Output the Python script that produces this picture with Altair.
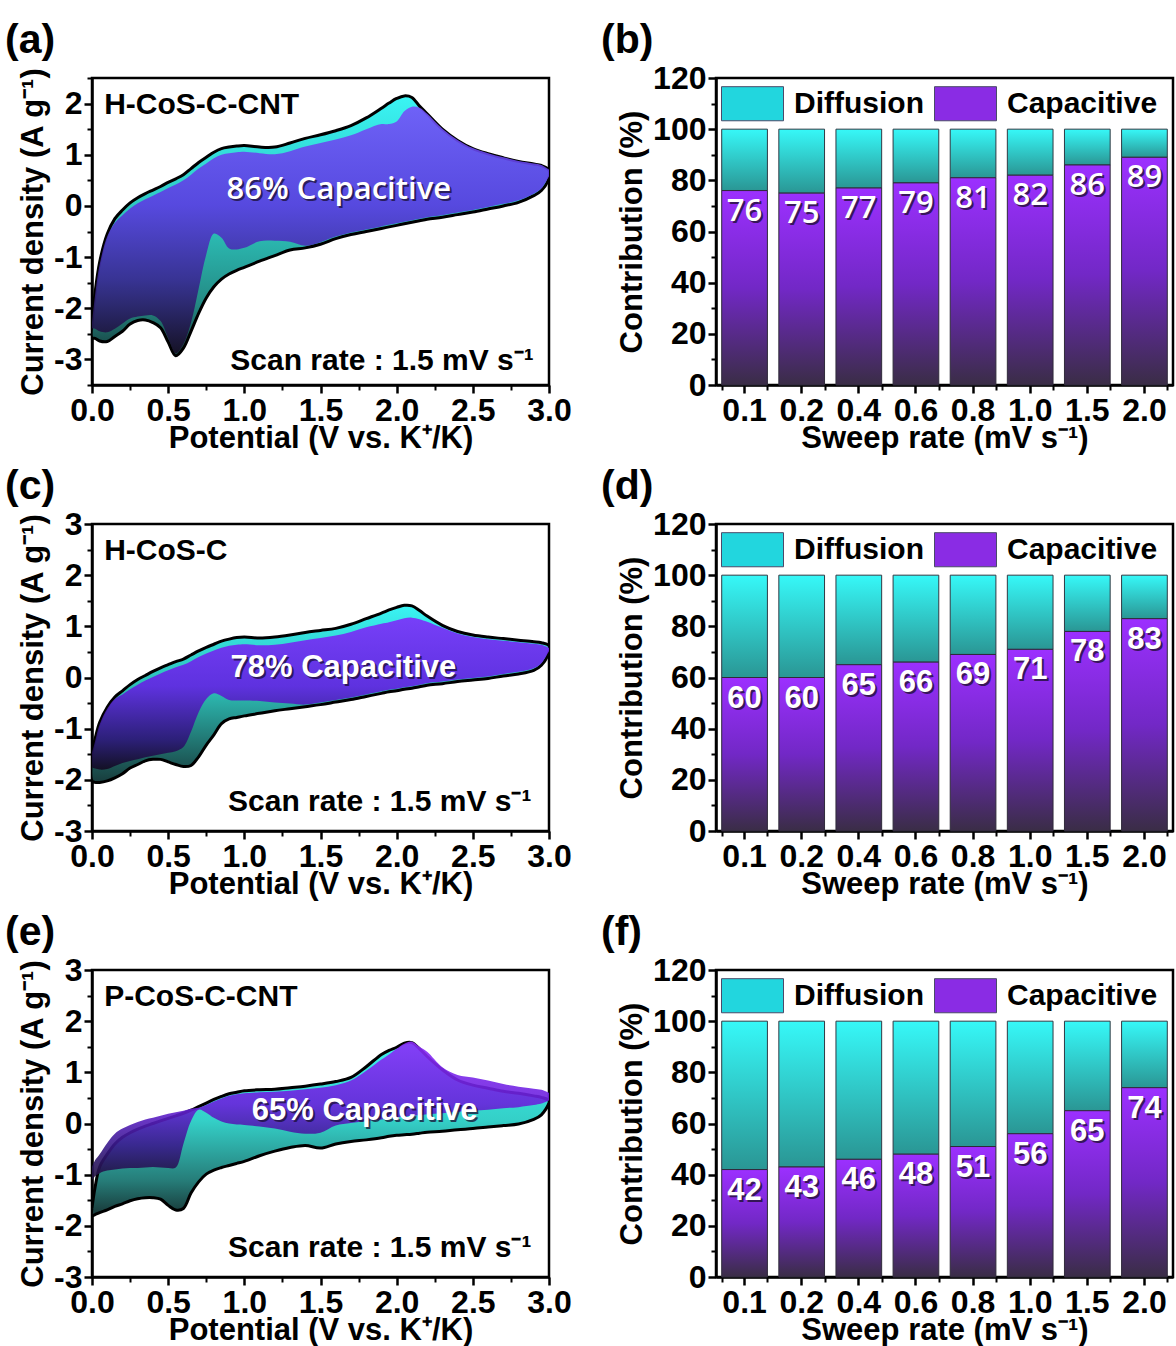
import altair as alt
import pandas as pd

FONT = "Liberation Sans"

# ---------------- CV data (potential grid shared by both branches) ----------------
V = [0.0, 0.02, 0.05, 0.1, 0.15, 0.2, 0.25, 0.3, 0.35, 0.4, 0.45, 0.5, 0.55, 0.6, 0.65, 0.7,
     0.75, 0.8, 0.85, 0.9, 0.95, 1.0, 1.1, 1.2, 1.3, 1.4, 1.5, 1.6, 1.7, 1.8, 1.9, 1.95, 2.0,
     2.05, 2.1, 2.15, 2.2, 2.3, 2.4, 2.5, 2.6, 2.7, 2.8, 2.9, 2.95, 3.0]

# (a) H-CoS-C-CNT
A_tot_up = [-2.3, -1.7, -1.1, -0.55, -0.25, -0.08, 0.06, 0.16, 0.24, 0.31, 0.38, 0.46, 0.53, 0.61,
            0.73, 0.85, 0.95, 1.05, 1.12, 1.15, 1.17, 1.18, 1.15, 1.15, 1.23, 1.32, 1.39, 1.47, 1.57,
            1.72, 1.91, 2.01, 2.10, 2.15, 2.12, 1.95, 1.80, 1.50, 1.28, 1.12, 1.02, 0.94, 0.87, 0.82,
            0.79, 0.70]
A_tot_lo = [-2.58, -2.59, -2.64, -2.65, -2.55, -2.45, -2.31, -2.24, -2.23, -2.28, -2.38, -2.66, -2.93,
            -2.78, -2.45, -2.10, -1.80, -1.58, -1.43, -1.33, -1.26, -1.20, -1.08, -0.97, -0.86, -0.82,
            -0.75, -0.64, -0.56, -0.50, -0.44, -0.41, -0.38, -0.35, -0.32, -0.29, -0.26, -0.22, -0.17,
            -0.12, -0.06, 0.0, 0.07, 0.20, 0.30, 0.55]
A_cap_up = [-2.3, -1.75, -1.15, -0.6, -0.33, -0.18, -0.05, 0.05, 0.13, 0.20, 0.27, 0.35, 0.42, 0.50,
            0.61, 0.73, 0.83, 0.93, 1.0, 1.03, 1.05, 1.06, 1.03, 1.01, 1.07, 1.16, 1.23, 1.30, 1.38,
            1.50, 1.60, 1.60, 1.65, 1.85, 1.94, 1.92, 1.80, 1.51, 1.29, 1.13, 1.03, 0.95, 0.88, 0.83,
            0.80, 0.71]
A_cap_lo = [-2.4, -2.4, -2.45, -2.47, -2.40, -2.30, -2.2, -2.16, -2.14, -2.14, -2.25, -2.58, -2.88,
            -2.70, -2.28, -1.62, -0.95, -0.54, -0.62, -0.83, -0.85, -0.82, -0.69, -0.68, -0.70, -0.78,
            -0.71, -0.60, -0.52, -0.46, -0.40, -0.37, -0.34, -0.31, -0.28, -0.25, -0.22, -0.18, -0.13,
            -0.08, -0.02, 0.04, 0.11, 0.24, 0.34, 0.58]

# (c) H-CoS-C
C_tot_up = [-1.45, -1.2, -0.88, -0.58, -0.38, -0.26, -0.14, -0.04, 0.04, 0.12, 0.19, 0.25, 0.31, 0.36,
            0.44, 0.52, 0.59, 0.65, 0.71, 0.75, 0.78, 0.79, 0.77, 0.79, 0.83, 0.88, 0.92, 0.96, 1.04,
            1.15, 1.26, 1.32, 1.37, 1.41, 1.40, 1.31, 1.20, 1.02, 0.90, 0.83, 0.79, 0.76, 0.73, 0.70,
            0.68, 0.62]
C_tot_lo = [-2.02, -2.05, -2.05, -2.02, -1.96, -1.88, -1.77, -1.70, -1.63, -1.60, -1.60, -1.65, -1.70,
            -1.74, -1.72, -1.55, -1.32, -1.12, -0.90, -0.81, -0.78, -0.75, -0.70, -0.65, -0.61, -0.57,
            -0.53, -0.48, -0.43, -0.37, -0.31, -0.28, -0.26, -0.23, -0.21, -0.18, -0.15, -0.12, -0.08,
            -0.05, -0.02, 0.03, 0.07, 0.14, 0.24, 0.50]
C_cap_up = [-1.47, -1.25, -0.92, -0.61, -0.42, -0.33, -0.23, -0.14, -0.06, 0.01, 0.08, 0.14, 0.20, 0.25,
            0.32, 0.40, 0.47, 0.53, 0.58, 0.62, 0.64, 0.65, 0.63, 0.64, 0.68, 0.73, 0.77, 0.82, 0.89,
            0.98, 1.05, 1.08, 1.12, 1.16, 1.17, 1.14, 1.09, 0.97, 0.86, 0.79, 0.75, 0.72, 0.69, 0.66,
            0.64, 0.58]
C_cap_lo = [-1.76, -1.78, -1.80, -1.79, -1.73, -1.67, -1.63, -1.60, -1.56, -1.53, -1.50, -1.47, -1.44,
            -1.36, -1.06, -0.68, -0.42, -0.31, -0.36, -0.44, -0.45, -0.45, -0.46, -0.49, -0.51, -0.53,
            -0.49, -0.44, -0.39, -0.33, -0.27, -0.24, -0.22, -0.19, -0.17, -0.14, -0.11, -0.08, -0.04,
            -0.01, 0.02, 0.07, 0.11, 0.18, 0.28, 0.52]

# (e) P-CoS-C-CNT
E_tot_up = [-1.65, -1.25, -0.85, -0.6, -0.40, -0.27, -0.18, -0.11, -0.05, 0.0, 0.05, 0.10, 0.15, 0.2,
            0.26, 0.33, 0.40, 0.47, 0.53, 0.58, 0.61, 0.64, 0.66, 0.67, 0.70, 0.73, 0.77, 0.82, 0.90,
            1.11, 1.35, 1.43, 1.49, 1.57, 1.58, 1.46, 1.31, 1.05, 0.85, 0.75, 0.69, 0.63, 0.59, 0.54,
            0.51, 0.45]
E_tot_lo = [-1.80, -1.78, -1.74, -1.69, -1.62, -1.57, -1.51, -1.47, -1.45, -1.45, -1.48, -1.60, -1.69,
            -1.66, -1.36, -1.14, -0.99, -0.91, -0.86, -0.82, -0.78, -0.74, -0.63, -0.54, -0.47, -0.43,
            -0.48, -0.40, -0.35, -0.32, -0.28, -0.25, -0.23, -0.22, -0.21, -0.19, -0.17, -0.15, -0.12,
            -0.10, -0.07, -0.04, -0.01, 0.08, 0.17, 0.40]
E_cap_up = [-0.85, -0.72, -0.6, -0.38, -0.2, -0.1, -0.03, 0.03, 0.08, 0.11, 0.15, 0.19, 0.22, 0.25,
            0.29, 0.31, 0.36, 0.43, 0.49, 0.54, 0.57, 0.59, 0.61, 0.62, 0.64, 0.67, 0.70, 0.75, 0.84,
            1.03, 1.25, 1.35, 1.46, 1.56, 1.60, 1.50, 1.40, 1.10, 0.95, 0.90, 0.84, 0.77, 0.72, 0.68,
            0.66, 0.60]
E_cap_lo = [-1.11, -1.03, -0.97, -0.92, -0.90, -0.88, -0.87, -0.87, -0.86, -0.85, -0.86, -0.87, -0.86,
            -0.40, 0.05, 0.27, 0.21, 0.11, 0.04, 0.0, -0.02, -0.03, -0.06, -0.10, -0.16, -0.20, -0.18,
            -0.04, 0.01, 0.05, 0.08, 0.10, 0.12, 0.13, 0.15, 0.16, 0.18, 0.20, 0.23, 0.25, 0.27, 0.30,
            0.32, 0.36, 0.39, 0.45]

# ---------------- bar data ----------------
RATES = ["0.1", "0.2", "0.4", "0.6", "0.8", "1.0", "1.5", "2.0"]
CAP_B = [76, 75, 77, 79, 81, 82, 86, 89]
CAP_D = [60, 60, 65, 66, 69, 71, 78, 83]
CAP_F = [42, 43, 46, 48, 51, 56, 65, 74]

X_MAJOR = [0.0, 0.5, 1.0, 1.5, 2.0, 2.5, 3.0]
X_MINOR = [0.25, 0.75, 1.25, 1.75, 2.25, 2.75]
Y_MAJOR_A = [-3, -2, -1, 0, 1, 2]
Y_MINOR_A = [-3.5, -2.5, -1.5, -0.5, 0.5, 1.5, 2.5]
Y_MAJOR_CE = [-3, -2, -1, 0, 1, 2, 3]
Y_MINOR_CE = [-2.5, -1.5, -0.5, 0.5, 1.5, 2.5]
YB_MAJOR = [0, 20, 40, 60, 80, 100, 120]
YB_MINOR = [10, 30, 50, 70, 90, 110]

W, H = 457, 307


def grad(stops):
    return alt.LinearGradient(
        gradient="linear",
        stops=[alt.GradientStop(color=c, offset=o) for o, c in stops],
        x1=0, y1=0, x2=0, y2=1,
    )


def label_df(s):
    return pd.DataFrame({"label": [s]})


def panel_tag(tag, dx):
    # panel letter placed above the top-left corner of the plot frame
    return alt.Chart(label_df(tag)).mark_text(
        font=FONT, fontSize=41, fontWeight="bold", color="black", align="left",
        baseline="alphabetic"
    ).encode(x=alt.value(dx), y=alt.value(-25), text="label:N")


def cv_panel(tu, tl, cu, cl, ydom, ymaj, ymin, name, pct, name_pos, pct_pos, scan_pos,
             cyan_stops, purp_stops, tag, pct_font, pct_weight):
    df = pd.DataFrame({"V": V, "tu": tu, "tl": tl, "cu": cu, "cl": cl})
    n = len(V)
    loop = pd.DataFrame({
        "V": V + V[::-1] + [V[0]],
        "I": tu + tl[::-1] + [tu[0]],
        "o": list(range(2 * n + 1)),
    })
    xs = alt.Scale(domain=[0, 3], nice=False, zero=False)
    ys = alt.Scale(domain=ydom, nice=False, zero=False)
    x_major = alt.Axis(values=X_MAJOR, format=".1f", tickSize=8, orient="bottom",
                       title="Potential (V vs. K⁺/K)")
    x_minor = alt.Axis(values=X_MINOR, labels=False, tickSize=5, tickWidth=2, orient="bottom",
                       title=None, domain=False)
    y_major = alt.Axis(values=ymaj, labelExpr="'' + datum.value", tickSize=8, orient="left",
                       title="Current density (A g⁻¹)")
    y_minor = alt.Axis(values=ymin, labels=False, tickSize=5, tickWidth=2, orient="left",
                       title=None, domain=False)

    cyan = alt.Chart(df).mark_area(color=grad(cyan_stops), interpolate="catmull-rom", clip=True).encode(
        x=alt.X("V:Q", scale=xs, axis=x_major),
        y=alt.Y("tu:Q", scale=ys, axis=y_major),
        y2="tl:Q",
    )
    line = alt.Chart(loop).mark_line(color="black", strokeWidth=3, interpolate="catmull-rom",
                                     clip=True, strokeJoin="round").encode(
        x=alt.X("V:Q", scale=xs, axis=x_minor),
        y=alt.Y("I:Q", scale=ys, axis=y_minor),
        order="o:Q",
    )
    purple = alt.Chart(df).mark_area(color=grad(purp_stops), opacity=0.9, interpolate="catmull-rom",
                                     clip=True).encode(
        x=alt.X("V:Q", scale=xs, axis=None),
        y=alt.Y("cu:Q", scale=ys, axis=None),
        y2="cl:Q",
    )

    def txt(s, pos, **kw):
        return alt.Chart(label_df(s)).mark_text(**kw).encode(
            x=alt.XDatum(pos[0], scale=xs, axis=None),
            y=alt.YDatum(pos[1], scale=ys, axis=None),
            text="label:N",
        )

    t_name = txt(name, name_pos, font=FONT, fontSize=30, fontWeight="bold", color="black",
                 align="left", baseline="middle")
    t_shadow = txt(pct, pct_pos, font=pct_font, fontSize=31, fontWeight=pct_weight, color="#1a0f33",
                   opacity=0.75, align="center", baseline="middle", dx=2, dy=2)
    t_pct = txt(pct, pct_pos, font=pct_font, fontSize=31, fontWeight=pct_weight, color="white",
                align="center", baseline="middle")
    t_scan = txt("Scan rate : 1.5 mV s⁻¹", scan_pos, font=FONT, fontSize=30, fontWeight="bold",
                 color="black", align="right", baseline="middle")

    return alt.layer(cyan, line, purple, t_name, t_shadow, t_pct, t_scan,
                     panel_tag(tag, -87)).resolve_axis(
        x="independent", y="independent"
    ).properties(width=W, height=H)


DIFF_STOPS = [(0, "#36f8f8"), (1, "#2a9694")]
CAP_STOPS = [(0, "#9c30ff"), (0.5, "#7228c6"), (1, "#3a2d46")]


def bar_panel(cap, tag, lab_font, lab_weight):
    df = pd.DataFrame({"rate": RATES, "cap": cap})
    long = pd.DataFrame({"rate": RATES * 2,
                         "type": ["Diffusion"] * len(RATES) + ["Capacitive"] * len(RATES),
                         "val": cap + cap})
    xs = alt.Scale(domain=RATES, paddingInner=0.2, paddingOuter=0.1)
    ys = alt.Scale(domain=[0, 120], nice=False, zero=True)
    x_major = alt.Axis(title="Sweep rate (mV s⁻¹)", labelAngle=0, tickSize=8, orient="bottom")
    x_minor = alt.Axis(title=None, labels=False, tickSize=5, tickWidth=2, tickBand="extent",
                       orient="bottom", domain=False)
    y_major = alt.Axis(values=YB_MAJOR, title="Contribution (%)", tickSize=8, orient="left")
    y_minor = alt.Axis(values=YB_MINOR, labels=False, tickSize=5, tickWidth=2, title=None,
                       domain=False, orient="left")

    diff = alt.Chart(df).mark_bar(color=grad(DIFF_STOPS), stroke="#2f3a44", strokeWidth=1).encode(
        x=alt.X("rate:N", sort=None, scale=xs, axis=x_major),
        y=alt.Y("cap:Q", scale=ys, axis=y_major),
        y2=alt.Y2Datum(100),
    )
    capb = alt.Chart(df).mark_bar(color=grad(CAP_STOPS), stroke="#2f2a3a", strokeWidth=1).encode(
        x=alt.X("rate:N", sort=None, scale=xs, axis=None),
        y=alt.Y("cap:Q", scale=ys, axis=None),
        y2=alt.Y2Datum(0),
    )
    leg = alt.Chart(long).mark_point(filled=True, opacity=0, size=10).encode(
        x=alt.X("rate:N", sort=None, scale=xs, axis=x_minor),
        y=alt.Y("val:Q", scale=ys, axis=y_minor),
        color=alt.Color("type:N",
                        scale=alt.Scale(domain=["Diffusion", "Capacitive"],
                                        range=["#22d6de", "#8a2ce4"]),
                        legend=alt.Legend(orient="none", legendX=5, legendY=-6, direction="horizontal",
                                          title=None, symbolType="M-1,-0.55L1,-0.55L1,0.55L-1,0.55Z",
                                          symbolSize=3844, symbolOpacity=1, symbolStrokeColor="#4a4a6a",
                                          symbolStrokeWidth=1, labelFont=FONT, labelFontSize=30,
                                          labelFontWeight="bold", labelColor="black", labelOffset=10,
                                          columnPadding=8, labelLimit=400)),
    )
    shadow = alt.Chart(df).mark_text(font=lab_font, fontSize=31, fontWeight=lab_weight, color="#1a0f2a",
                                     opacity=0.75, baseline="middle", dx=2, dy=23).encode(
        x=alt.X("rate:N", sort=None, scale=xs, axis=None),
        y=alt.Y("cap:Q", scale=ys, axis=None),
        text="cap:Q",
    )
    labels = alt.Chart(df).mark_text(font=lab_font, fontSize=31, fontWeight=lab_weight, color="white",
                                     baseline="middle", dy=21).encode(
        x=alt.X("rate:N", sort=None, scale=xs, axis=None),
        y=alt.Y("cap:Q", scale=ys, axis=None),
        text="cap:Q",
    )
    return alt.layer(diff, capb, leg, shadow, labels, panel_tag(tag, -115)).resolve_axis(
        x="independent", y="independent"
    ).properties(width=W, height=H)


a = cv_panel(A_tot_up, A_tot_lo, A_cap_up, A_cap_lo, [-3.5, 2.5], Y_MAJOR_A, Y_MINOR_A,
             "H-CoS-C-CNT", "86% Capacitive", (0.08, 1.98), (1.62, 0.31), (2.9, -3.03),
             [(0, "#3af4f4"), (0.5, "#2cc0b8"), (0.8, "#248a84"), (1, "#163a3a")],
             [(0, "#7452f8"), (0.4, "#5b3be2"), (0.7, "#3a2894"), (1, "#150d24")],
             "(a)", "Open Sans", 600)
c = cv_panel(C_tot_up, C_tot_lo, C_cap_up, C_cap_lo, [-3, 3], Y_MAJOR_CE, Y_MINOR_CE,
             "H-CoS-C", "78% Capacitive", (0.08, 2.47), (1.65, 0.19), (2.885, -2.44),
             [(0, "#3af4f4"), (0.5, "#2cb8b0"), (1, "#183c3c")],
             [(0, "#7e2cfa"), (0.45, "#6422e4"), (0.8, "#2e167a"), (1, "#120a20")],
             "(c)", FONT, "bold")
e = cv_panel(E_tot_up, E_tot_lo, E_cap_up, E_cap_lo, [-3, 3], Y_MAJOR_CE, Y_MINOR_CE,
             "P-CoS-C-CNT", "65% Capacitive", (0.08, 2.47), (1.79, 0.24), (2.885, -2.44),
             [(0, "#3cf0ec"), (0.45, "#34d0c8"), (0.8, "#267c78"), (1, "#183636")],
             [(0, "#8c2cfa"), (0.45, "#6a22dc"), (0.75, "#3a1a8c"), (1, "#1c1036")],
             "(e)", FONT, "bold")

b = bar_panel(CAP_B, "(b)", "Open Sans", 600)
d = bar_panel(CAP_D, "(d)", FONT, "bold")
f = bar_panel(CAP_F, "(f)", FONT, "bold")


def row(l, r):
    return alt.hconcat(l, r, spacing=26).resolve_scale(color="independent").resolve_legend(
        color="independent")


chart = alt.vconcat(
    row(a, b), row(c, d), row(e, f), spacing=9,
).resolve_scale(color="independent").resolve_legend(color="independent").properties(
    padding={"left": 3, "top": 18, "right": 0, "bottom": 0}
).configure(
    font=FONT
).configure_view(
    stroke="black", strokeWidth=2.5
).configure_axis(
    labelFont=FONT, labelFontSize=32, labelFontWeight="bold", labelColor="black",
    titleFont=FONT, titleFontSize=31, titleFontWeight="bold", titleColor="black",
    domainColor="black", domainWidth=2.5, tickColor="black", tickWidth=2.5,
    grid=False, labelPadding=2, labelFlush=False, labelOverlap=False
).configure_axisX(
    titlePadding=-3
).configure_axisY(
    titlePadding=4
)

chart.save("out.html", embed_options={"renderer": "svg", "actions": False})
